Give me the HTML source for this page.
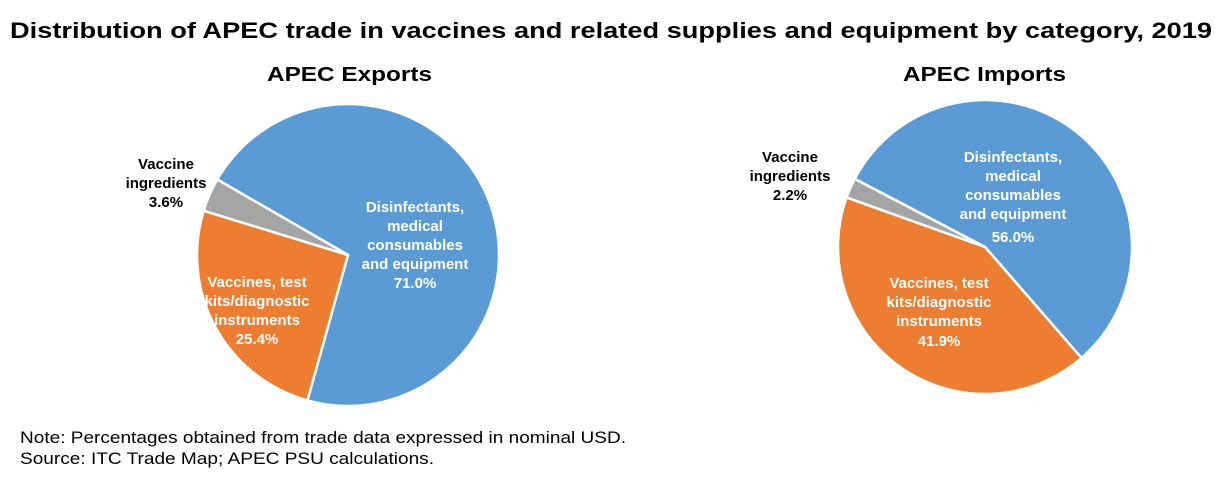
<!DOCTYPE html>
<html><head><meta charset="utf-8"><style>
body{margin:0;background:#fff;font-family:"Liberation Sans",Arial,sans-serif;}
</style></head><body>
<svg width="1222" height="486" viewBox="0 0 1222 486" xmlns="http://www.w3.org/2000/svg" font-family="Liberation Sans, Arial, sans-serif">
<text x="10" y="38" font-size="22" font-weight="bold" fill="#000" textLength="1202" lengthAdjust="spacingAndGlyphs">Distribution of APEC trade in vaccines and related supplies and equipment by category, 2019</text>
<text x="267" y="81" font-size="20" font-weight="bold" fill="#000" textLength="165" lengthAdjust="spacingAndGlyphs">APEC Exports</text>
<text x="903" y="81" font-size="20" font-weight="bold" fill="#000" textLength="163" lengthAdjust="spacingAndGlyphs">APEC Imports</text>
<g id="pie1"></g>
<g id="pie2"></g>
<g font-size="15" font-weight="bold" text-anchor="middle">
<text fill="#000"><tspan x="166" y="169">Vaccine</tspan><tspan x="166" y="188">ingredients</tspan><tspan x="166" y="207">3.6%</tspan></text>
<text fill="#fff"><tspan x="415" y="212">Disinfectants,</tspan><tspan x="415" y="231">medical</tspan><tspan x="415" y="250">consumables</tspan><tspan x="415" y="269">and equipment</tspan><tspan x="415" y="288">71.0%</tspan></text>
<text fill="#fff"><tspan x="257" y="287">Vaccines, test</tspan><tspan x="257" y="306">kits/diagnostic</tspan><tspan x="257" y="325">instruments</tspan><tspan x="257" y="344">25.4%</tspan></text>
<text fill="#000"><tspan x="790" y="162">Vaccine</tspan><tspan x="790" y="181">ingredients</tspan><tspan x="790" y="200">2.2%</tspan></text>
<text fill="#fff"><tspan x="1013" y="162">Disinfectants,</tspan><tspan x="1013" y="181">medical</tspan><tspan x="1013" y="200">consumables</tspan><tspan x="1013" y="219">and equipment</tspan><tspan x="1013" y="242">56.0%</tspan></text>
<text fill="#fff"><tspan x="939" y="288">Vaccines, test</tspan><tspan x="939" y="307">kits/diagnostic</tspan><tspan x="939" y="326">instruments</tspan><tspan x="939" y="346">41.9%</tspan></text>
</g>
<text x="20" y="443" font-size="16.5" fill="#000" textLength="606" lengthAdjust="spacingAndGlyphs">Note: Percentages obtained from trade data expressed in nominal USD.</text>
<text x="20" y="464" font-size="16.5" fill="#000" textLength="414" lengthAdjust="spacingAndGlyphs">Source: ITC Trade Map; APEC PSU calculations.</text>
</svg>
<script>
const categories = ["Disinfectants, medical consumables and equipment","Vaccines, test kits/diagnostic instruments","Vaccine ingredients"];
const exportValues = [71.0, 25.4, 3.6];
const importValues = [56.0, 41.9, 2.2];
const colors = ["#5b9bd5","#ed7d31","#a5a5a5"];
const NS="http://www.w3.org/2000/svg";
function drawPie(gid, values, cx, cy, r, startDeg, prefix){
  const g=document.getElementById(gid);
  const total=values.reduce((a,b)=>a+b,0);
  let a=startDeg;
  values.forEach((v,i)=>{
    const sweep=v/total*360;
    const a0=a*Math.PI/180, a1=(a+sweep)*Math.PI/180;
    const x0=cx+r*Math.sin(a0), y0=cy-r*Math.cos(a0);
    const x1=cx+r*Math.sin(a1), y1=cy-r*Math.cos(a1);
    const p=document.createElementNS(NS,"path");
    p.setAttribute("d",`M${cx},${cy}L${x0},${y0}A${r},${r} 0 ${sweep>180?1:0} 1 ${x1},${y1}Z`);
    p.setAttribute("fill",colors[i]);
    p.setAttribute("stroke","#fff");
    p.setAttribute("stroke-width","2.5");
    
    
    g.appendChild(p);
    a+=sweep;
  });
}
drawPie("pie1", exportValues, 348, 255, 151, 300, "exports");
drawPie("pie2", importValues, 985, 247, 147, 297.6, "imports");
</script>
</body></html>
